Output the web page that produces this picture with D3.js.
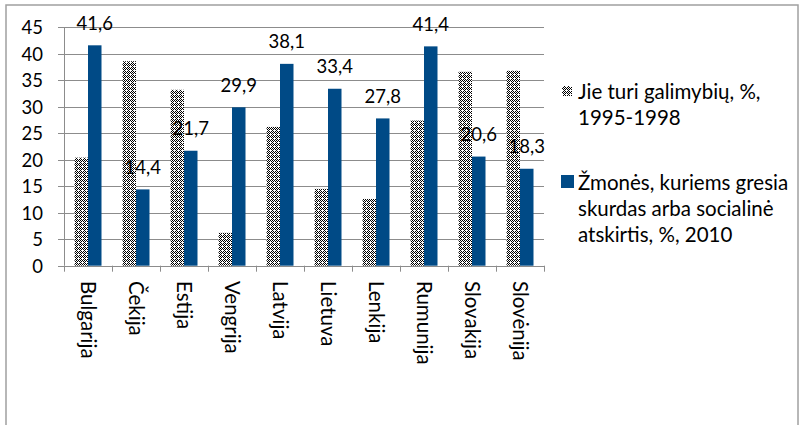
<!DOCTYPE html>
<html><head><meta charset="utf-8">
<script src="https://cdn.jsdelivr.net/npm/d3@7"></script>
<style>body{margin:0;background:#fff}svg{display:block}</style>
</head><body>
<svg id="c" width="799" height="425"></svg>
<script>
const categories = ["Bulgarija","Čekija","Estija","Vengrija","Latvija","Lietuva","Lenkija","Rumunija","Slovakija","Slovėnija"];
const opportunity = [20.4, 38.6, 33.2, 6.2, 26.2, 14.5, 12.6, 27.4, 36.6, 36.8];
const poverty = [41.6, 14.4, 21.7, 29.9, 38.1, 33.4, 27.8, 41.4, 20.6, 18.3];
const seriesNames = [["Jie turi galimybių, %,", "1995-1998"], ["Žmonės, kuriems gresia", "skurdas arba socialinė", "atskirtis, %, 2010"]];
const yTicks = [0,5,10,15,20,25,30,35,40,45];

const FONT = "Lato, 'Open Sans', sans-serif";
const NUM = 18.5, TXT = 20.5;
const BLUE = "#004a86";
const svg = d3.select("#c");

// pattern
const defs = svg.append("defs");
const pat = defs.append("pattern").attr("id","chk").attr("patternUnits","userSpaceOnUse")
  .attr("width",4).attr("height",4);
pat.append("rect").attr("width",4).attr("height",4).attr("fill","#fff");
const tile = ["1010","0101","1010","0101"];
tile.forEach((row,yy)=>row.split("").forEach((c,xx)=>{
  if (c==="1" && !(xx===2 && yy===2)) pat.append("rect").attr("x",xx).attr("y",yy).attr("width",1).attr("height",1).attr("fill","#000");
}));

// frame
svg.append("rect").attr("x",6).attr("y",5).attr("width",792).attr("height",430)
  .attr("fill","none").attr("stroke","#a0a0a0").attr("stroke-width",1.5);

const L=64, R=544, T=27.3, B=265.7;
const x = d3.scaleBand().domain(categories).range([L,R]).paddingInner(0).paddingOuter(0);
const y = d3.scaleLinear().domain([0,45]).range([B,T]);
const bw = 13.5;

// grid
svg.append("g").selectAll("line").data(yTicks).join("line")
  .attr("x1",L-6).attr("x2",R).attr("y1",d=>Math.round(y(d))+0.5).attr("y2",d=>Math.round(y(d))+0.5)
  .attr("stroke","#8c8c8c").attr("stroke-width",1);

// y axis
const yAxis = d3.axisLeft(y).tickValues(yTicks).tickSize(0).tickPadding(0).tickFormat(d=>d);
const gy = svg.append("g").attr("transform",`translate(${L},0)`).call(yAxis);
gy.select(".domain").remove();
gy.selectAll("text").attr("x",-21).attr("font-family",FONT).attr("font-size",NUM).attr("fill","#000").attr("dy","0.35em");
svg.append("line").attr("x1",L+0.5).attr("x2",L+0.5).attr("y1",T).attr("y2",B).attr("stroke","#8c8c8c");

// x axis ticks at boundaries
const bounds = categories.map(c=>x(c)).concat([R]);
svg.append("g").selectAll("line").data(bounds).join("line")
  .attr("x1",d=>Math.round(d)+0.5).attr("x2",d=>Math.round(d)+0.5).attr("y1",B).attr("y2",B+6)
  .attr("stroke","#8c8c8c");

// bars
const g = svg.append("g");
g.selectAll("rect.op").data(opportunity).join("rect").attr("class","op")
  .attr("x",(d,i)=>x(categories[i])+x.bandwidth()/2-bw).attr("width",bw)
  .attr("y",d=>y(d)).attr("height",d=>y(0)-y(d)).attr("fill","url(#chk)");
g.selectAll("rect.pv").data(poverty).join("rect").attr("class","pv")
  .attr("x",(d,i)=>x(categories[i])+x.bandwidth()/2).attr("width",bw)
  .attr("y",d=>y(d)).attr("height",d=>y(0)-y(d)).attr("fill",BLUE);

// labels
g.selectAll("text.lb").data(poverty).join("text").attr("class","lb")
  .attr("x",(d,i)=>x(categories[i])+x.bandwidth()/2+bw/2).attr("y",d=>y(d)-15.5)
  .attr("text-anchor","middle").attr("font-family",FONT).attr("font-size",NUM).attr("fill","#000")
  .text(d=>String(d).replace(".",","));

// category labels rotated
svg.append("g").selectAll("text").data(categories).join("text")
  .attr("transform",d=>`translate(${x(d)+x.bandwidth()/2},281) rotate(90)`)
  .attr("dy","0.35em").attr("font-family",FONT).attr("font-size",TXT).attr("fill","#000")
  .text(d=>d);

// legend
const lg = svg.append("g").attr("font-family",FONT).attr("font-size",TXT).attr("fill","#000");
lg.append("rect").attr("x",562).attr("y",86).attr("width",10).attr("height",10).attr("fill","url(#chk)");
lg.append("rect").attr("x",561).attr("y",175).attr("width",13).attr("height",13).attr("fill",BLUE);
const starts=[92,183];
seriesNames.forEach((lines,si)=>{
  lines.forEach((t,li)=>{
    lg.append("text").attr("x",578).attr("y",starts[si]+li*26).attr("dy","0.35em").text(t);
  });
});
</script>
</body></html>
